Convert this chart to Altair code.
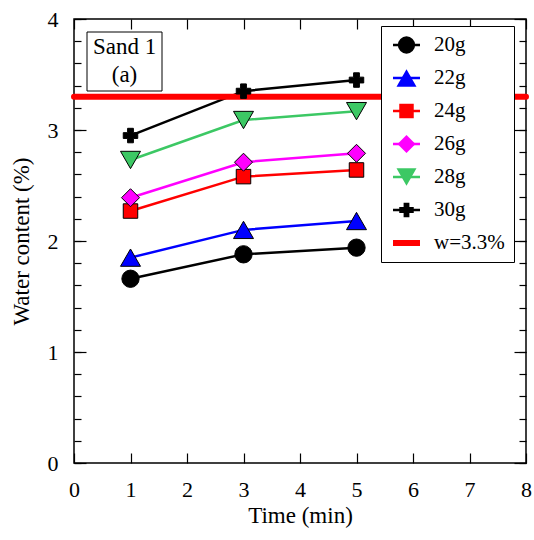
import altair as alt
import pandas as pd

# ---- data ----
times = [1, 3, 5]
series_names = ["20g", "22g", "24g", "26g", "28g", "30g"]
w20 = [1.66, 1.88, 1.94]
w22 = [1.85, 2.10, 2.18]
w24 = [2.27, 2.58, 2.64]
w26 = [2.39, 2.71, 2.79]
w28 = [2.73, 3.09, 3.17]
w30 = [2.95, 3.35, 3.45]
threshold_label = "w=3.3%"
threshold_value = 3.3
x_ticks = [0, 1, 2, 3, 4, 5, 6, 7, 8]
y_ticks = [0, 1, 2, 3, 4]
y_minor = [0, 0.2, 0.4, 0.6, 0.8, 1, 1.2, 1.4, 1.6, 1.8, 2, 2.2, 2.4, 2.6, 2.8,
           3, 3.2, 3.4, 3.6, 3.8, 4]

colors = ["#000000", "#0000ff", "#ff0000", "#ff00ff", "#3cc864", "#000000"]
shapes = ["circle", "triangle-up", "square", "diamond", "triangle-down", "cross"]
sizes = [300, 400, 210, 324, 400, 210]

rows = []
for name, vals in zip(series_names, [w20, w22, w24, w26, w28, w30]):
    for t, v in zip(times, vals):
        rows.append({"series": name, "time": t, "water": v})
df = pd.DataFrame(rows)
rule_df = pd.DataFrame({"series": [threshold_label], "water": [threshold_value]})
one = pd.DataFrame({"k": [0]})

W, H = 452, 444
FONT = "Times New Roman, Liberation Serif, serif"

xs = alt.Scale(domain=[0, 8], nice=False, zero=False)
ys = alt.Scale(domain=[0, 4], nice=False)

stroke_scale = alt.Scale(type="ordinal", domain=series_names + [threshold_label],
                         range=colors + ["#ff0000"])
sw_scale = alt.Scale(type="ordinal", domain=series_names + [threshold_label],
                     range=[2.5] * 6 + [6])
fill_scale = alt.Scale(type="ordinal", domain=series_names, range=colors)
shape_scale = alt.Scale(type="ordinal", domain=series_names, range=shapes)
size_scale = alt.Scale(type="ordinal", domain=series_names, range=sizes)

LX, LY = 307, 7

leg_lines = alt.Legend(orient="none", legendX=LX, legendY=LY, title=None,
                       labelFont=FONT, labelFontSize=21, labelColor="black",
                       symbolType="stroke", symbolSize=729, padding=9,
                       rowPadding=12, clipHeight=20, labelOffset=11,
                       strokeColor="black", fillColor="white", zindex=1,
                       labelLimit=200)
leg_pts = alt.Legend(orient="none", legendX=LX + 6, legendY=LY, title=None,
                     labelFont=FONT, labelFontSize=21, labelExpr="''",
                     padding=9, rowPadding=12, clipHeight=20, labelOffset=11,
                     symbolStrokeColor="black", symbolStrokeWidth=1,
                     symbolOpacity=1, zindex=2, labelLimit=200)

def tick_axis(orient, values, size):
    return alt.Axis(orient=orient, values=values, labels=False, domain=False,
                    grid=False, title=None, tickColor="black", tickWidth=1.2,
                    tickSize=alt.ExprRef(expr=str(-size)))

# lines with label axes
lines = alt.Chart(df).mark_line().encode(
    x=alt.X("time:Q", scale=xs,
            axis=alt.Axis(orient="bottom", values=x_ticks, ticks=False, domain=False,
                          grid=False, title="Time (min)", labelFont=FONT,
                          labelFontSize=22, labelColor="black", labelPadding=16,
                          titleFont=FONT, titleFontSize=23, titleFontWeight="normal",
                          titleColor="black", titlePadding=4, labelFlush=False)),
    y=alt.Y("water:Q", scale=ys,
            axis=alt.Axis(orient="left", values=y_ticks, ticks=False, domain=False,
                          grid=False, title="Water content (%)", labelFont=FONT,
                          labelFontSize=22, labelColor="black", labelPadding=16,
                          titleFont=FONT, titleFontSize=23, titleFontWeight="normal",
                          titleColor="black", titlePadding=14, labelFlush=False)),
    stroke=alt.Stroke("series:O", scale=stroke_scale, legend=leg_lines),
    strokeWidth=alt.StrokeWidth("series:O", scale=sw_scale, legend=leg_lines),
    detail="series:N",
)

rule = alt.Chart(rule_df).mark_rule(strokeCap="round").encode(
    y=alt.Y("water:Q", scale=ys, axis=None),
    stroke=alt.Stroke("series:O", scale=stroke_scale, legend=leg_lines),
    strokeWidth=alt.StrokeWidth("series:O", scale=sw_scale, legend=leg_lines),
)

points = alt.Chart(df).mark_point(filled=True, stroke="black", strokeWidth=1, opacity=1).encode(
    x=alt.X("time:Q", scale=xs, axis=tick_axis("bottom", x_ticks, 10)),
    y=alt.Y("water:Q", scale=ys, axis=tick_axis("left", y_ticks, 12)),
    fill=alt.Fill("series:O", scale=fill_scale, legend=leg_pts),
    shape=alt.Shape("series:O", scale=shape_scale, legend=leg_pts),
    size=alt.Size("series:O", scale=size_scale, legend=leg_pts),
)

mirror = alt.Chart(df).mark_point(opacity=0).encode(
    x=alt.X("time:Q", scale=xs, axis=tick_axis("top", x_ticks, 10)),
    y=alt.Y("water:Q", scale=ys, axis=tick_axis("right", y_ticks, 12)),
)
minor_left = alt.Chart(df).mark_point(opacity=0).encode(
    x=alt.X("time:Q", scale=xs, axis=None),
    y=alt.Y("water:Q", scale=ys, axis=tick_axis("left", y_minor, 7)),
)
minor_right = alt.Chart(df).mark_point(opacity=0).encode(
    x=alt.X("time:Q", scale=xs, axis=None),
    y=alt.Y("water:Q", scale=ys, axis=tick_axis("right", y_minor, 7)),
)

box = alt.Chart(one).mark_rect(fill="white", stroke="black", strokeWidth=1).encode(
    x=alt.value(13), x2=alt.value(88), y=alt.value(13), y2=alt.value(72)
)
txt1 = alt.Chart(one).mark_text(font=FONT, fontSize=23, color="black", baseline="middle").encode(
    x=alt.value(50.5), y=alt.value(28), text=alt.value("Sand 1")
)
txt2 = alt.Chart(one).mark_text(font=FONT, fontSize=23, color="black", baseline="middle").encode(
    x=alt.value(50.5), y=alt.value(56), text=alt.value("(a)")
)

chart = alt.layer(
    lines, rule, points, mirror, minor_left, minor_right, box, txt1, txt2
).resolve_axis(x="independent", y="independent").properties(
    width=W, height=H,
    autosize=alt.AutoSizeParams(type="none"),
    padding={"left": 74, "top": 19, "right": 8, "bottom": 77},
    background="white",
).configure_view(stroke="black", strokeWidth=1.5)

chart.save("out.html", embed_options={"renderer": "svg", "actions": False})
